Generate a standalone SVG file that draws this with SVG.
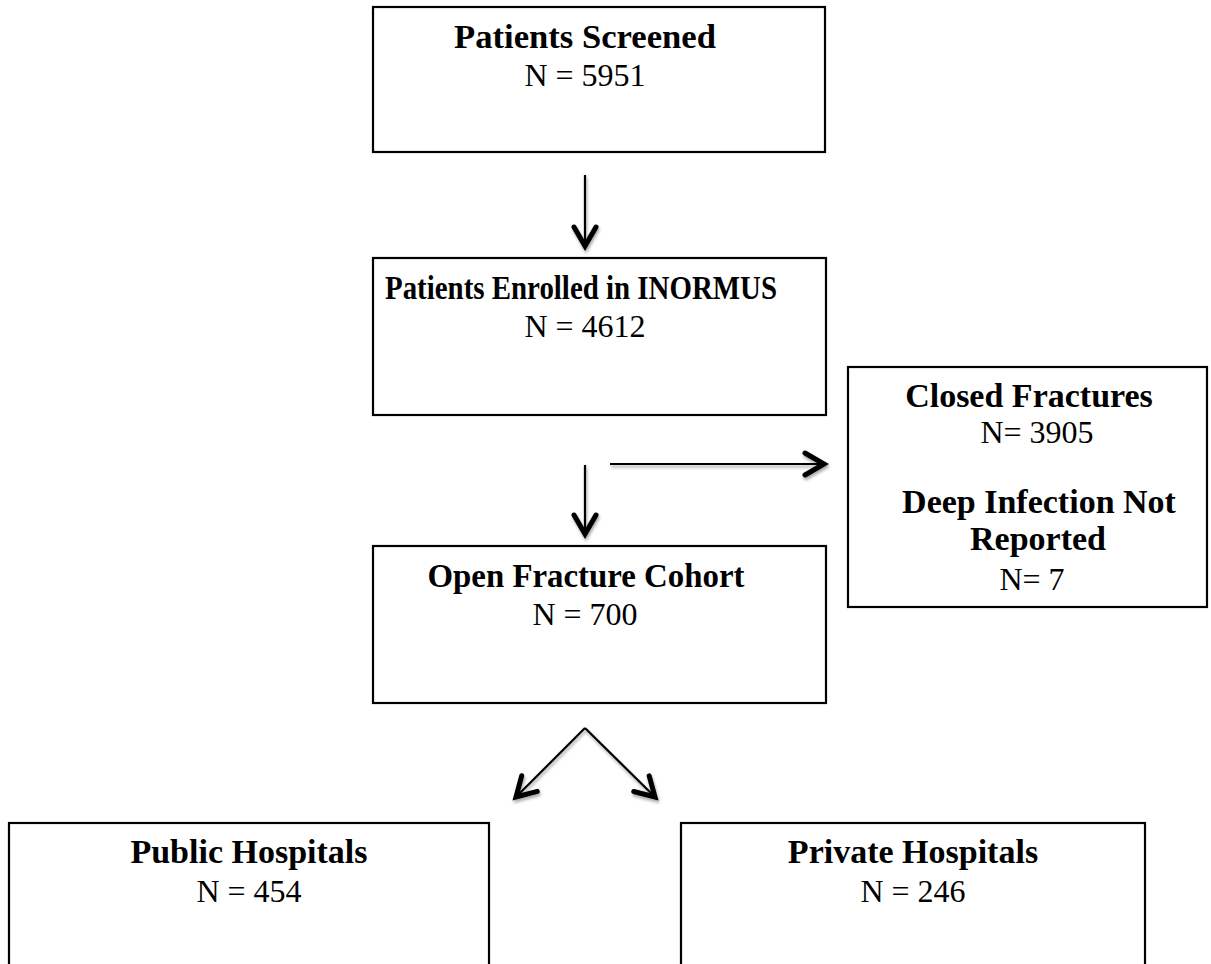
<svg xmlns="http://www.w3.org/2000/svg" width="1211" height="964" viewBox="0 0 1211 964">
<style>
.box{fill:#fff;stroke:#000;stroke-width:2.2}
.t{font-family:"Liberation Serif","Times New Roman",serif;font-weight:bold;font-size:34px;fill:#000;text-anchor:middle}
.n{font-family:"Liberation Serif","Times New Roman",serif;font-size:32px;fill:#000;text-anchor:middle}
.c{fill:none;stroke:#000;stroke-width:2.2}
</style>
<defs>
<filter id="sh" x="-20%" y="-20%" width="140%" height="140%">
<feDropShadow dx="1" dy="2.5" stdDeviation="1.8" flood-color="#000" flood-opacity="0.35"/>
</filter>
<marker id="ah" markerUnits="userSpaceOnUse" markerWidth="40" markerHeight="40" viewBox="-30 -20 40 40" refX="0" refY="0" orient="auto" overflow="visible">
<path d="M-19,-11 L0,0 L-19,11" fill="none" stroke="#000" stroke-width="5" stroke-linecap="round" stroke-linejoin="miter"/>
</marker>
</defs>
<rect width="1211" height="964" fill="#fff"/>
<g id="connectors" filter="url(#sh)">
<line class="c" x1="585" y1="175" x2="585" y2="246" marker-end="url(#ah)"/>
<line class="c" x1="585" y1="465" x2="585" y2="534" marker-end="url(#ah)"/>
<line class="c" x1="610" y1="464" x2="824" y2="464" marker-end="url(#ah)"/>
<line class="c" x1="585" y1="728" x2="516" y2="797" marker-end="url(#ah)"/>
<line class="c" x1="585" y1="728" x2="655" y2="797" marker-end="url(#ah)"/>
</g>
<g id="screened">
<rect class="box" x="373" y="7" width="452" height="145"/>
<text class="t" x="585" y="48" textLength="262" lengthAdjust="spacingAndGlyphs">Patients Screened</text>
<text class="n" x="585" y="86">N = 5951</text>
</g>
<g id="enrolled">
<rect class="box" x="373" y="258" width="453" height="157"/>
<text class="t" x="581" y="299" textLength="392" lengthAdjust="spacingAndGlyphs">Patients Enrolled in INORMUS</text>
<text class="n" x="585" y="337">N = 4612</text>
</g>
<g id="closed">
<rect class="box" x="848" y="367" width="359" height="240"/>
<text class="t" x="1029" y="407">Closed Fractures</text>
<text class="n" x="1037" y="443">N= 3905</text>
<text class="t" x="1039" y="513">Deep Infection Not</text>
<text class="t" x="1038" y="550">Reported</text>
<text class="n" x="1032" y="590">N= 7</text>
</g>
<g id="open">
<rect class="box" x="373" y="546" width="453" height="157"/>
<text class="t" x="586" y="587" textLength="317" lengthAdjust="spacingAndGlyphs">Open Fracture Cohort</text>
<text class="n" x="585" y="625">N = 700</text>
</g>
<g id="public">
<rect class="box" x="9" y="823" width="480" height="160"/>
<text class="t" x="249" y="863">Public Hospitals</text>
<text class="n" x="249" y="902">N = 454</text>
</g>
<g id="private">
<rect class="box" x="681" y="823" width="464" height="160"/>
<text class="t" x="913" y="863">Private Hospitals</text>
<text class="n" x="913" y="902">N = 246</text>
</g>
</svg>
